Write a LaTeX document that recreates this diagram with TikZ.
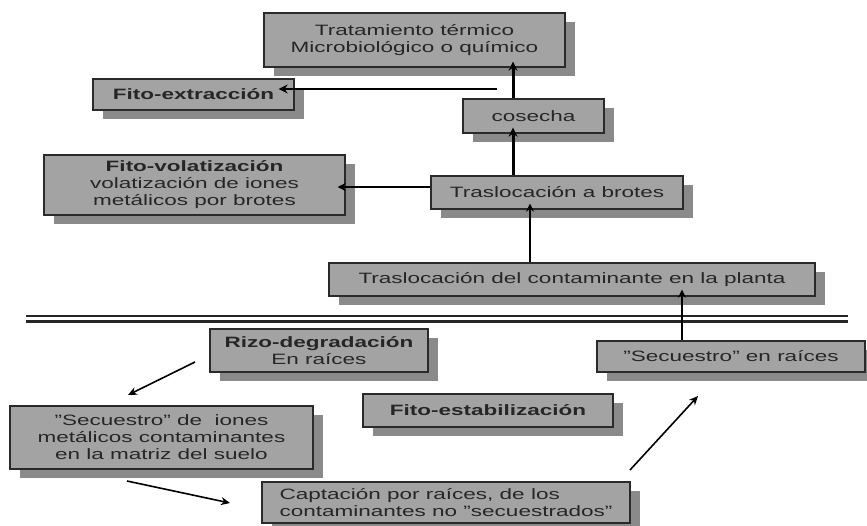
\documentclass[tikz,border=0pt]{standalone}
\usepackage{fontspec}
\setmainfont{Liberation Sans}[FakeStretch=1.5]
\usepackage{tikz}
\usetikzlibrary{shadows, arrows.meta}
\definecolor{relleno}{HTML}{A3A3A3}
\definecolor{sombra}{HTML}{8A8A8A}
\definecolor{borde}{HTML}{2A2A2A}

\begin{document}
\begin{tikzpicture}[x=1pt, y=-1pt, every node/.style={font=\fontsize{15}{17}\selectfont, text=black!85}]
  \tikzstyle{caja} = [draw=borde, fill=relleno, line width=1.3pt, align=center, inner sep=2pt, drop shadow={shadow xshift=10pt, shadow yshift=-9pt, fill=sombra, opacity=1}]
  \useasboundingbox (0,0) rectangle (867,525);
  % parte aerea
  \node[caja, minimum width=301pt, minimum height=54pt] (trat) at (414.5,40) {Tratamiento térmico\\Microbiológico o químico};
  \node[caja, minimum width=201pt, minimum height=31pt] (fext) at (193.5,94.5) {\textbf{Fito-extracción}};
  \node[caja, minimum width=141pt, minimum height=34pt] (cosecha) at (533.5,116) {cosecha};
  \node[caja, minimum width=301pt, minimum height=60pt] (fvol) at (194.5,185) {\textbf{Fito-volatización}\\volatización de iones\\metálicos por brotes};
  \node[caja, minimum width=252pt, minimum height=33pt] (brotes) at (557,192.5) {Traslocación a brotes};
  \node[caja, minimum width=486pt, minimum height=33pt] (contam) at (572,279.5) {Traslocación del contaminante en la planta};
  % suelo
  \node[caja, minimum width=218pt, minimum height=43pt] (rizo) at (319,350.5) {\textbf{Rizo-degradación}\\En raíces};
  \node[caja, minimum width=268pt, minimum height=31pt] (secr) at (731,356.5) {"Secuestro" en raíces};
  \node[caja, minimum width=250pt, minimum height=33pt] (festab) at (488,410.5) {\textbf{Fito-estabilización}};
  \node[caja, minimum width=303pt, minimum height=63pt] (siones) at (161.5,437.5) {"Secuestro" de \ iones\\metálicos contaminantes\\en la matriz del suelo};
  \node[caja, minimum width=368pt, minimum height=41pt, align=left] (capt) at (446,502.5) {Captación por raíces, de los\\contaminantes no "secuestrados"};
  \coordinate (fextA) at (497,89);
  \coordinate (rizoA) at (195,362);
  \coordinate (rizoB) at (128,395);
  \coordinate (sueloA) at (127,481);
  \coordinate (sueloB) at (230,503);
  \coordinate (captA) at (630,470);
  \coordinate (captB) at (698,396);
  % linea del suelo
  \draw[line width=2.6pt, black!85] (26,316) -- (848,316);
  \draw[line width=2.6pt, black!85] (26,321.5) -- (848,321.5);
  % flechas
  \draw[->, >={Stealth[length=9pt, width=9pt]}, line width=3pt, shorten >=-6pt] ([xshift=-20.5pt]cosecha.north) -- ([xshift=-20.5pt]cosecha.north |- trat.south);
  \draw[->, >={Stealth[length=9pt, width=9pt]}, line width=3pt, shorten >=-6pt] ([xshift=-44pt]brotes.north) -- ([xshift=-44pt]brotes.north |- cosecha.south);
  \draw[->, >={Stealth[length=9pt, width=9pt]}, line width=2.4pt, shorten >=-16pt] (fextA) -- (fextA -| fext.east);
  \draw[->, >={Stealth[length=8pt, width=8pt]}, line width=1.4pt, shorten >=-8pt] ([yshift=5.5pt]brotes.west) -- ([yshift=5.5pt]brotes.west -| fvol.east);
  \draw[->, >={Stealth[length=8pt, width=8pt]}, line width=1.4pt, shorten >=-6pt] ([xshift=-42pt]contam.north) -- ([xshift=-42pt]contam.north |- brotes.south);
  \draw[->, >={Stealth[length=8pt, width=8pt]}, line width=1.4pt, shorten >=-7pt] ([xshift=-49pt]secr.north) -- ([xshift=-49pt]secr.north |- contam.south);
  \draw[->, >={Stealth[length=9pt, width=8pt]}, line width=1.6pt] (rizoA) -- (rizoB);
  \draw[->, >={Stealth[length=9pt, width=8pt]}, line width=1.6pt] (sueloA) -- (sueloB);
  \draw[->, >={Stealth[length=9pt, width=8pt]}, line width=1.6pt] (captA) -- (captB);
\end{tikzpicture}
\end{document}
